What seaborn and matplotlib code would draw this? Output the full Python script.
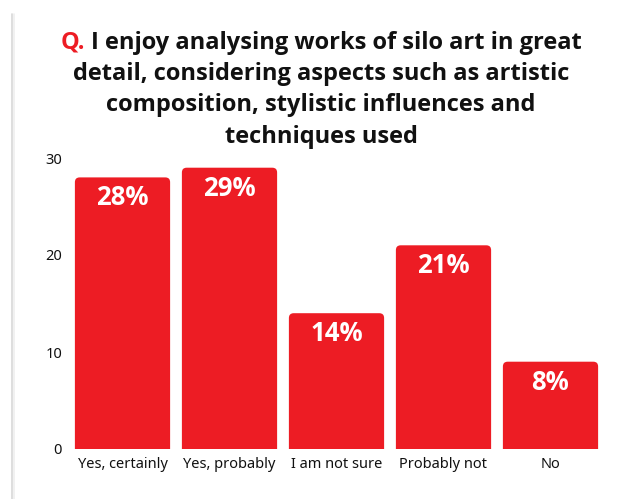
import matplotlib
matplotlib.use("Agg")
import matplotlib.pyplot as plt
from matplotlib.patches import FancyBboxPatch
from matplotlib.lines import Line2D
import pandas as pd
import seaborn as sns

# data
categories = ["Yes, certainly", "Yes, probably", "I am not sure", "Probably not", "No"]
values = [28, 29, 14, 21, 9]
labels = ["28%", "29%", "14%", "21%", "8%"]
yticks = [0, 10, 20, 30]

title_q = "Q."
title_lines = ["I enjoy analysing works of silo art in great",
               "detail, considering aspects such as artistic",
               "composition, stylistic influences and",
               "techniques used"]

bar_color = "#ED1C24"

sns.set_theme(style="white")
plt.rcParams["font.family"] = ["Noto Sans", "DejaVu Sans"]
bold_font = ["Open Sans", "DejaVu Sans"]

df = pd.DataFrame({"answer": categories, "value": values})

W, H = 624, 499
fig = plt.figure(figsize=(W / 100, H / 100), dpi=100)
ax = fig.add_axes([69 / W, (H - 449) / H, (604 - 69) / W, (449 - 158) / H])

sns.barplot(data=df, x="answer", y="value", color=bar_color, saturation=1,
            width=0.89, ax=ax)
ax.set_ylim(0, 30)
ax.set_xlim(-0.5, len(categories) - 0.5)

# rounded tops
fig.canvas.draw()
p0 = ax.transData.transform((0, 0))
p1 = ax.transData.transform((1, 1))
aspect = (p1[0] - p0[0]) / (p1[1] - p0[1])
for p in list(ax.patches):
    x, w, h = p.get_x(), p.get_width(), p.get_height()
    p.set_visible(False)
    ax.add_patch(FancyBboxPatch((x, -2), w, h + 2,
                                boxstyle="round,pad=0,rounding_size=0.045",
                                mutation_aspect=aspect, fc=bar_color, ec="none"))

for i, (v, lab) in enumerate(zip(values, labels)):
    ax.annotate(lab, (i, v), xytext=(0, -5), textcoords="offset points",
                ha="center", va="top", color="white", fontsize=18.5,
                fontweight="bold", family=bold_font)

ax.set_yticks(yticks)
ax.set_xlabel("")
ax.set_ylabel("")
ax.tick_params(axis="both", length=0, labelsize=10.5, labelcolor="#111111")
ax.tick_params(axis="y", pad=5)
ax.tick_params(axis="x", pad=6)
sns.despine(ax=ax, left=True, bottom=True)

# title
cx = 321 / W
baselines = [49, 80, 111, 143]
tsize = 17
renderer = fig.canvas.get_renderer()
tmp = fig.text(cx, 1 - baselines[0] / H, title_q + " " + title_lines[0],
               ha="center", va="baseline", fontsize=tsize, fontweight="bold",
               family=bold_font)
bb = tmp.get_window_extent(renderer)
tmp.remove()
fig.text(bb.x0 / W, 1 - baselines[0] / H, title_q, ha="left", va="baseline",
         fontsize=tsize, fontweight="bold", color=bar_color, family=bold_font)
fig.text(bb.x1 / W, 1 - baselines[0] / H, title_lines[0], ha="right",
         va="baseline", fontsize=tsize, fontweight="bold", color="#111111",
         family=bold_font)
for line, b in zip(title_lines[1:], baselines[1:]):
    fig.text(cx, 1 - b / H, line, ha="center", va="baseline", fontsize=tsize,
             fontweight="bold", color="#111111", family=bold_font)

# card shadow on the left edge
fig.add_artist(Line2D([12 / W, 12 / W], [0, 1 - 14 / H], color="#d8d8d8",
                      lw=1.2, transform=fig.transFigure))
fig.add_artist(Line2D([13.5 / W, 13.5 / W], [0, 1 - 14 / H], color="#efefef",
                      lw=1.2, transform=fig.transFigure))

fig.savefig("out.png", dpi=100)
